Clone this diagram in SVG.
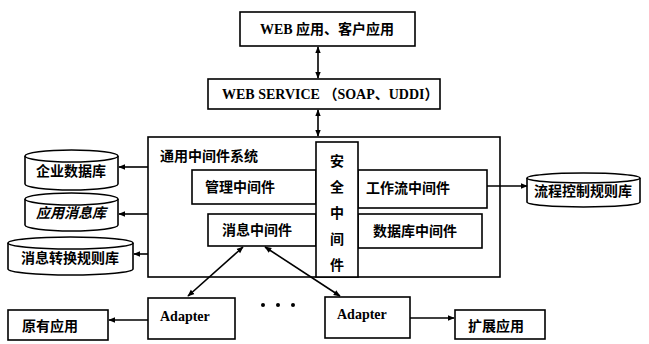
<svg xmlns="http://www.w3.org/2000/svg" width="649" height="344" viewBox="0 0 649 344">
<defs>
<style>
.b{fill:#fff;stroke:#000;stroke-width:1.6}
.c{stroke:#000;stroke-width:1.6;fill:none}
.t{font-family:"Liberation Serif","Noto Sans CJK SC",serif;font-weight:bold;font-size:14px;fill:#000}
.z{font-family:"Noto Sans CJK SC",sans-serif;font-weight:bold;font-size:14px;fill:#000}
</style>
<marker id="a" viewBox="0 0 10 10" refX="9" refY="5" markerWidth="7" markerHeight="7" orient="auto-start-reverse" markerUnits="userSpaceOnUse"><path d="M0,1 L10,5 L0,9 Z" fill="#000"/></marker>
</defs>
<rect width="649" height="344" fill="#fff"/>
<g id="web-app"><rect class="b" x="240" y="12" width="175" height="34"/><text class="t" x="327" y="34" text-anchor="middle">WEB 应用、客户应用</text></g>
<g id="web-service"><rect class="b" x="208" y="79" width="232" height="30"/><text class="t" x="222" y="99">WEB SERVICE （SOAP、UDDI）</text></g>
<g id="middleware-system"><rect class="b" x="148" y="137" width="352" height="140"/><text class="z" x="160" y="161" font-size="14.5">通用中间件系统</text></g>
<g id="mgmt"><rect class="b" x="192" y="170" width="124" height="34"/><text class="z" x="205" y="192">管理中间件</text></g>
<g id="workflow"><rect class="b" x="358" y="170" width="129" height="38"/><text class="z" x="366" y="193">工作流中间件</text></g>
<g id="msg"><rect class="b" x="208" y="214" width="108" height="32"/><text class="z" x="222" y="235">消息中间件</text></g>
<g id="db-mw"><rect class="b" x="358" y="214" width="124" height="34"/><text class="z" x="373" y="236">数据库中间件</text></g>
<g id="security"><rect class="b" x="316" y="142" width="42" height="135"/>
<text class="z" x="337" y="166" text-anchor="middle">安</text>
<text class="z" x="337" y="192" text-anchor="middle">全</text>
<text class="z" x="337" y="218" text-anchor="middle">中</text>
<text class="z" x="337" y="244" text-anchor="middle">间</text>
<text class="z" x="337" y="270" text-anchor="middle">件</text></g>
<g id="db1"><path class="b" d="M25,156 A46.5,6 0 0 1 118,156 L118,184 A46.5,6 0 0 1 25,184 Z"/><path class="c" d="M25,156 A46.5,6 0 0 0 118,156"/><text class="z" x="71" y="176" text-anchor="middle" font-size="12">企业数据库</text></g>
<g id="db2"><path class="b" d="M25,199 A46.5,6 0 0 1 118,199 L118,225 A46.5,6 0 0 1 25,225 Z"/><path class="c" d="M25,199 A46.5,6 0 0 0 118,199"/><text class="z" x="71" y="218" text-anchor="middle" font-size="12" font-style="italic">应用消息库</text></g>
<g id="db3"><path class="b" d="M8,243 A62.5,6 0 0 1 133,243 L133,269 A62.5,6 0 0 1 8,269 Z"/><path class="c" d="M8,243 A62.5,6 0 0 0 133,243"/><text class="z" x="70" y="263" text-anchor="middle" font-size="11">消息转换规则库</text></g>
<g id="db4"><path class="b" d="M527,178 A56.5,5 0 0 1 640,178 L640,202 A56.5,5 0 0 1 527,202 Z"/><path class="c" d="M527,178 A56.5,5 0 0 0 640,178"/><text class="z" x="583" y="196" text-anchor="middle" font-size="11">流程控制规则库</text></g>
<g id="adapter1"><rect class="b" x="148" y="298" width="87" height="41"/><text class="t" x="160" y="321" font-size="12">Adapter</text></g>
<g id="adapter2"><rect class="b" x="325" y="297" width="85" height="41"/><text class="t" x="337" y="319" font-size="12">Adapter</text></g>
<g id="dots"><circle cx="263" cy="305" r="2"/><circle cx="278" cy="305" r="2"/><circle cx="293" cy="305" r="2"/></g>
<g id="legacy"><rect class="b" x="8" y="310" width="100" height="30"/><text class="z" x="22" y="331">原有应用</text></g>
<g id="ext"><rect class="b" x="455" y="310" width="90" height="29"/><text class="z" x="468" y="331">扩展应用</text></g>
<g id="connectors">
<line class="c" x1="318" y1="47" x2="318" y2="78" marker-start="url(#a)" marker-end="url(#a)"/>
<line class="c" x1="318" y1="110" x2="318" y2="136" marker-start="url(#a)" marker-end="url(#a)"/>
<line class="c" x1="148" y1="167" x2="119" y2="167" marker-end="url(#a)"/>
<line class="c" x1="148" y1="214" x2="119" y2="214" marker-end="url(#a)"/>
<line class="c" x1="148" y1="254" x2="134" y2="254" marker-end="url(#a)"/>
<line class="c" x1="487" y1="186" x2="527" y2="186" marker-end="url(#a)"/>
<line class="c" x1="243" y1="247" x2="188" y2="296" marker-start="url(#a)" marker-end="url(#a)"/>
<line class="c" x1="265" y1="247" x2="340" y2="296" marker-start="url(#a)" marker-end="url(#a)"/>
<line class="c" x1="148" y1="320" x2="109" y2="320" marker-end="url(#a)"/>
<line class="c" x1="410" y1="318" x2="454" y2="318" marker-end="url(#a)"/>
</g>
</svg>
